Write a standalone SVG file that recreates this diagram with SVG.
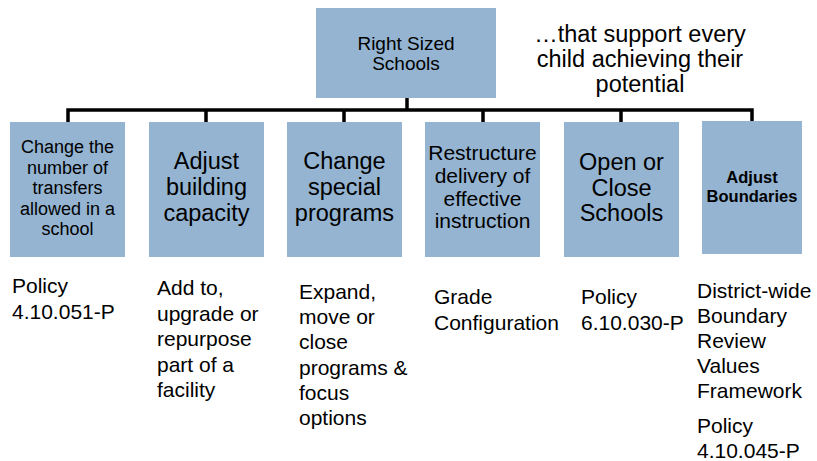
<svg xmlns="http://www.w3.org/2000/svg" width="817" height="461" viewBox="0 0 817 461">
<style>
.box{fill:#94b4d1;}
.t{font-family:"Liberation Sans",Arial,sans-serif;fill:#000;}
.c{text-anchor:middle;}
.conn{stroke:#000;stroke-width:3.5;fill:none;stroke-linecap:square;}
</style>
<rect width="817" height="461" fill="#fff"/>
<g id="connectors">
<path class="conn" d="M407 98V110M68 110H752M68 110V121M206 110V121M344 110V121M483 110V121M621 110V121M752 110V120"/>
</g>
<g id="root">
<rect class="box" x="316" y="8" width="180" height="90"/>
<text class="t c" x="406" y="50" font-size="19">Right Sized</text>
<text class="t c" x="406" y="70" font-size="19">Schools</text>
</g>
<g id="tagline">
<text class="t c" x="640" y="42" font-size="23.5">…that support every</text>
<text class="t c" x="640" y="67" font-size="23.5">child achieving their</text>
<text class="t c" x="640" y="92" font-size="23.5">potential</text>
</g>
<g id="n1">
<rect class="box" x="10" y="122" width="115" height="135"/>
<text class="t c" x="67.5" y="153" font-size="18">Change the</text>
<text class="t c" x="67.5" y="173.5" font-size="18">number of</text>
<text class="t c" x="67.5" y="194" font-size="18">transfers</text>
<text class="t c" x="67.5" y="214.5" font-size="18">allowed in a</text>
<text class="t c" x="67.5" y="235" font-size="18">school</text>
</g>
<g id="n2">
<rect class="box" x="149" y="122" width="115" height="135"/>
<text class="t c" x="206.5" y="169" font-size="23.5">Adjust</text>
<text class="t c" x="206.5" y="195" font-size="23.5">building</text>
<text class="t c" x="206.5" y="221" font-size="23.5">capacity</text>
</g>
<g id="n3">
<rect class="box" x="287" y="122" width="115" height="135"/>
<text class="t c" x="344.5" y="169" font-size="23.5">Change</text>
<text class="t c" x="344.5" y="195" font-size="23.5">special</text>
<text class="t c" x="344.5" y="221" font-size="23.5">programs</text>
</g>
<g id="n4">
<rect class="box" x="425" y="122" width="115" height="135"/>
<text class="t c" x="482.5" y="160" font-size="21">Restructure</text>
<text class="t c" x="482.5" y="183" font-size="21">delivery of</text>
<text class="t c" x="482.5" y="205.5" font-size="21">effective</text>
<text class="t c" x="482.5" y="228" font-size="21">instruction</text>
</g>
<g id="n5">
<rect class="box" x="564" y="122" width="115" height="135"/>
<text class="t c" x="621.5" y="170" font-size="23.5">Open or</text>
<text class="t c" x="621.5" y="196" font-size="23.5">Close</text>
<text class="t c" x="621.5" y="221" font-size="23.5">Schools</text>
</g>
<g id="n6">
<rect class="box" x="702" y="121" width="100" height="133"/>
<text class="t c" x="752" y="183" font-size="16.5" font-weight="bold">Adjust</text>
<text class="t c" x="752" y="202" font-size="16.5" font-weight="bold">Boundaries</text>
</g>
<g id="d1">
<text class="t" x="12" y="293" font-size="21">Policy</text>
<text class="t" x="12" y="319" font-size="21">4.10.051-P</text>
</g>
<g id="d2">
<text class="t" x="157" y="295" font-size="21">Add to,</text>
<text class="t" x="157" y="320.5" font-size="21">upgrade or</text>
<text class="t" x="157" y="346" font-size="21">repurpose</text>
<text class="t" x="157" y="371.5" font-size="21">part of a</text>
<text class="t" x="157" y="397" font-size="21">facility</text>
</g>
<g id="d3">
<text class="t" x="299" y="299" font-size="21">Expand,</text>
<text class="t" x="299" y="324.2" font-size="21">move or</text>
<text class="t" x="299" y="349.4" font-size="21">close</text>
<text class="t" x="299" y="374.6" font-size="21">programs &amp;</text>
<text class="t" x="299" y="399.8" font-size="21">focus</text>
<text class="t" x="299" y="425" font-size="21">options</text>
</g>
<g id="d4">
<text class="t" x="434" y="304" font-size="21">Grade</text>
<text class="t" x="434" y="330" font-size="21">Configuration</text>
</g>
<g id="d5">
<text class="t" x="581" y="304" font-size="21">Policy</text>
<text class="t" x="581" y="330" font-size="21">6.10.030-P</text>
</g>
<g id="d6">
<text class="t" x="697" y="298" font-size="21">District-wide</text>
<text class="t" x="697" y="323" font-size="21">Boundary</text>
<text class="t" x="697" y="348" font-size="21">Review</text>
<text class="t" x="697" y="373" font-size="21">Values</text>
<text class="t" x="697" y="398" font-size="21">Framework</text>
<text class="t" x="697" y="433" font-size="21">Policy</text>
<text class="t" x="697" y="458" font-size="21">4.10.045-P</text>
</g>
</svg>
